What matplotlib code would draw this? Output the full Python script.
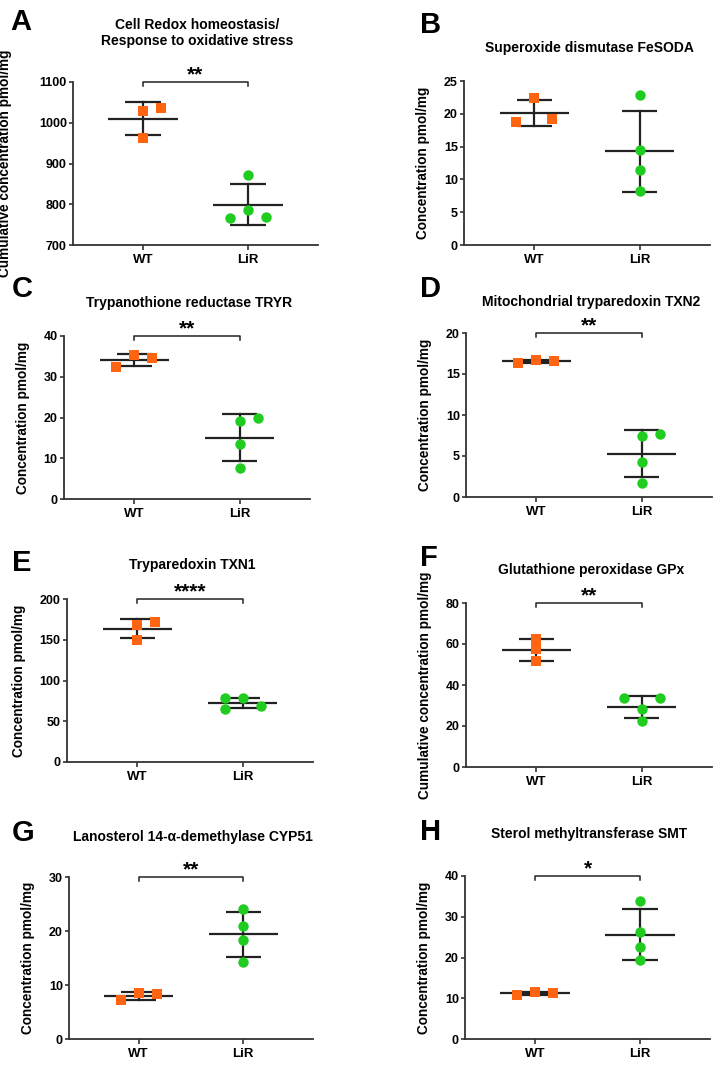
import numpy as np
import matplotlib
matplotlib.use("Agg")
import matplotlib.pyplot as plt

plt.rcParams['font.family'] = ['Liberation Sans', 'DejaVu Sans']
plt.rcParams['font.weight'] = 'bold'

categories = ["WT", "LiR"]

# ---- data ----
A_wt = [1030, 1036, 963]
A_lir = [873, 786, 766, 769]
B_wt = [22.4, 18.8, 19.2]
B_lir = [22.8, 14.5, 11.5, 8.3]
C_wt = [35.3, 34.6, 32.5]
C_lir = [19.9, 19.2, 13.5, 7.6]
D_wt = [16.3, 16.7, 16.6]
D_lir = [7.7, 7.4, 4.3, 1.7]
E_wt = [168, 172, 150]
E_lir = [78, 78, 65, 69]
F_wt = [62.4, 57.6, 51.7]
F_lir = [33.5, 33.5, 28.2, 22.3]
G_wt = [7.2, 8.6, 8.3]
G_lir = [24.1, 20.9, 18.3, 14.3]
H_wt = [10.9, 11.6, 11.2]
H_lir = [33.9, 26.3, 22.6, 19.4]

titles = {
    "A": "Cell Redox homeostasis/\nResponse to oxidative stress",
    "B": "Superoxide dismutase FeSODA",
    "C": "Trypanothione reductase TRYR",
    "D": "Mitochondrial tryparedoxin TXN2",
    "E": "Tryparedoxin TXN1",
    "F": "Glutathione peroxidase GPx",
    "G": "Lanosterol 14-\u03b1-demethylase CYP51",
    "H": "Sterol methyltransferase SMT",
}
ylabels = {
    "A": "Cumulative concentration pmol/mg",
    "B": "Concentration pmol/mg",
    "C": "Concentration pmol/mg",
    "D": "Concentration pmol/mg",
    "E": "Concentration pmol/mg",
    "F": "Cumulative concentration pmol/mg",
    "G": "Concentration pmol/mg",
    "H": "Concentration pmol/mg",
}
yticks = {
    "A": [700, 800, 900, 1000, 1100],
    "B": [0, 5, 10, 15, 20, 25],
    "C": [0, 10, 20, 30, 40],
    "D": [0, 5, 10, 15, 20],
    "E": [0, 50, 100, 150, 200],
    "F": [0, 20, 40, 60, 80],
    "G": [0, 10, 20, 30],
    "H": [0, 10, 20, 30, 40],
}
signif = {"A": "**", "B": None, "C": "**", "D": "**", "E": "****",
          "F": "**", "G": "**", "H": "*"}

# horizontal jitter of points (category units), mimicking the scatter spread
jit_wt = {"A": [0, 0.17, 0], "B": [0, -0.17, 0.17], "C": [0, 0.17, -0.17],
          "D": [-0.17, 0, 0.17], "E": [0, 0.17, 0], "F": [0, 0, 0],
          "G": [-0.17, 0, 0.17], "H": [-0.17, 0, 0.17]}
jit_lir = {"A": [0, 0, -0.17, 0.17], "B": [0, 0, 0, 0], "C": [0.17, 0, 0, 0],
           "D": [0.17, 0, 0, 0], "E": [-0.17, 0, -0.17, 0.17],
           "F": [-0.17, 0.17, 0, 0], "G": [0, 0, 0, 0], "H": [0, 0, 0, 0]}

data = {"A": (A_wt, A_lir), "B": (B_wt, B_lir), "C": (C_wt, C_lir),
        "D": (D_wt, D_lir), "E": (E_wt, E_lir), "F": (F_wt, F_lir),
        "G": (G_wt, G_lir), "H": (H_wt, H_lir)}

# axes boxes in pixels: left, right, top, bottom
W, H = 721, 1065
boxes = {
    "A": (73, 318, 82, 245), "B": (464, 710, 81, 245),
    "C": (64, 310, 336, 499), "D": (466, 712, 333, 497),
    "E": (67, 313, 599, 762), "F": (466, 712, 603, 767),
    "G": (69, 313, 877, 1039), "H": (465, 710, 876, 1039),
}
# title y (px) and letter position (px)
title_y = {"A": 33, "B": 48, "C": 303, "D": 302, "E": 565, "F": 570, "G": 837, "H": 834}
letter_pos = {"A": (10, 22), "B": (420, 25), "C": (12, 289), "D": (420, 289),
              "E": (12, 563), "F": (420, 558), "G": (12, 833), "H": (420, 832)}
ylabel_pad = {"A": 19, "B": 10, "C": 10, "D": 10, "E": 10, "F": 10, "G": 10, "H": 10}

ORANGE = "#FF6510"
GREEN = "#1FCC1F"
LINEC = "#222222"

fig = plt.figure(figsize=(W / 100, H / 100), dpi=100)

for key in "ABCDEFGH":
    l, r, t, b = boxes[key]
    ax = fig.add_axes([l / W, 1 - b / H, (r - l) / W, (b - t) / H])
    wt, lir = data[key]
    for i, (vals, jit, col, mk, ms) in enumerate([
            (wt, jit_wt[key], ORANGE, "s", 7.2),
            (lir, jit_lir[key], GREEN, "o", 7.5)]):
        v = np.array(vals, dtype=float)
        m = v.mean()
        s = v.std(ddof=1)
        ax.plot([i - 0.33, i + 0.33], [m, m], color=LINEC, lw=1.6, zorder=2,
                solid_capstyle="butt")
        ax.plot([i, i], [m - s, m + s], color=LINEC, lw=1.6, zorder=2)
        for yy in (m - s, m + s):
            ax.plot([i - 0.167, i + 0.167], [yy, yy], color=LINEC, lw=1.6,
                    zorder=2, solid_capstyle="butt")
        ax.plot(i + np.array(jit), v, linestyle="none", marker=mk, ms=ms,
                color=col, markeredgewidth=0, zorder=3)
    yt = yticks[key]
    ax.set_ylim(yt[0], yt[-1])
    ax.set_yticks(yt)
    ax.set_xlim(-0.667, 1.667)
    ax.set_xticks([0, 1])
    ax.set_xticklabels(categories, fontsize=9.5, fontweight="bold")
    ax.tick_params(axis="y", labelsize=9.0, width=1.2, length=3, pad=1.5,
                   color="#333333")
    ax.tick_params(axis="x", width=1.2, length=3.5, pad=3, color="#333333")
    for lab in ax.get_yticklabels():
        lab.set_fontweight("bold")
    for sp in ("top", "right"):
        ax.spines[sp].set_visible(False)
    for sp in ("left", "bottom"):
        ax.spines[sp].set_linewidth(1.3)
        ax.spines[sp].set_color("#333333")
    ax.set_ylabel(ylabels[key], fontsize=9.8, fontweight="bold",
                  labelpad=ylabel_pad[key])
    ax.patch.set_alpha(0)

    # title
    fig.text(((l + r) / 2 + 2) / W, 1 - title_y[key] / H, titles[key],
             ha="center", va="center", fontsize=10, fontweight="bold",
             linespacing=1.15)
    lx, ly = letter_pos[key]
    fig.text(lx / W, 1 - ly / H, key, ha="left", va="center", fontsize=21,
             fontweight="bold")

    # significance bracket
    if signif[key]:
        top = yt[-1]
        span = yt[-1] - yt[0]
        d = span * 0.025
        ax.plot([0, 0, 1, 1], [top - d, top, top, top - d], color=LINEC,
                lw=1.1, clip_on=False, zorder=4)
        ax.annotate(signif[key], xy=(0.5, top), xytext=(0, 1.5),
                    textcoords="offset points", ha="center", va="baseline",
                    fontsize=15, fontweight="bold", annotation_clip=False)

fig.savefig("out.png", dpi=100)
